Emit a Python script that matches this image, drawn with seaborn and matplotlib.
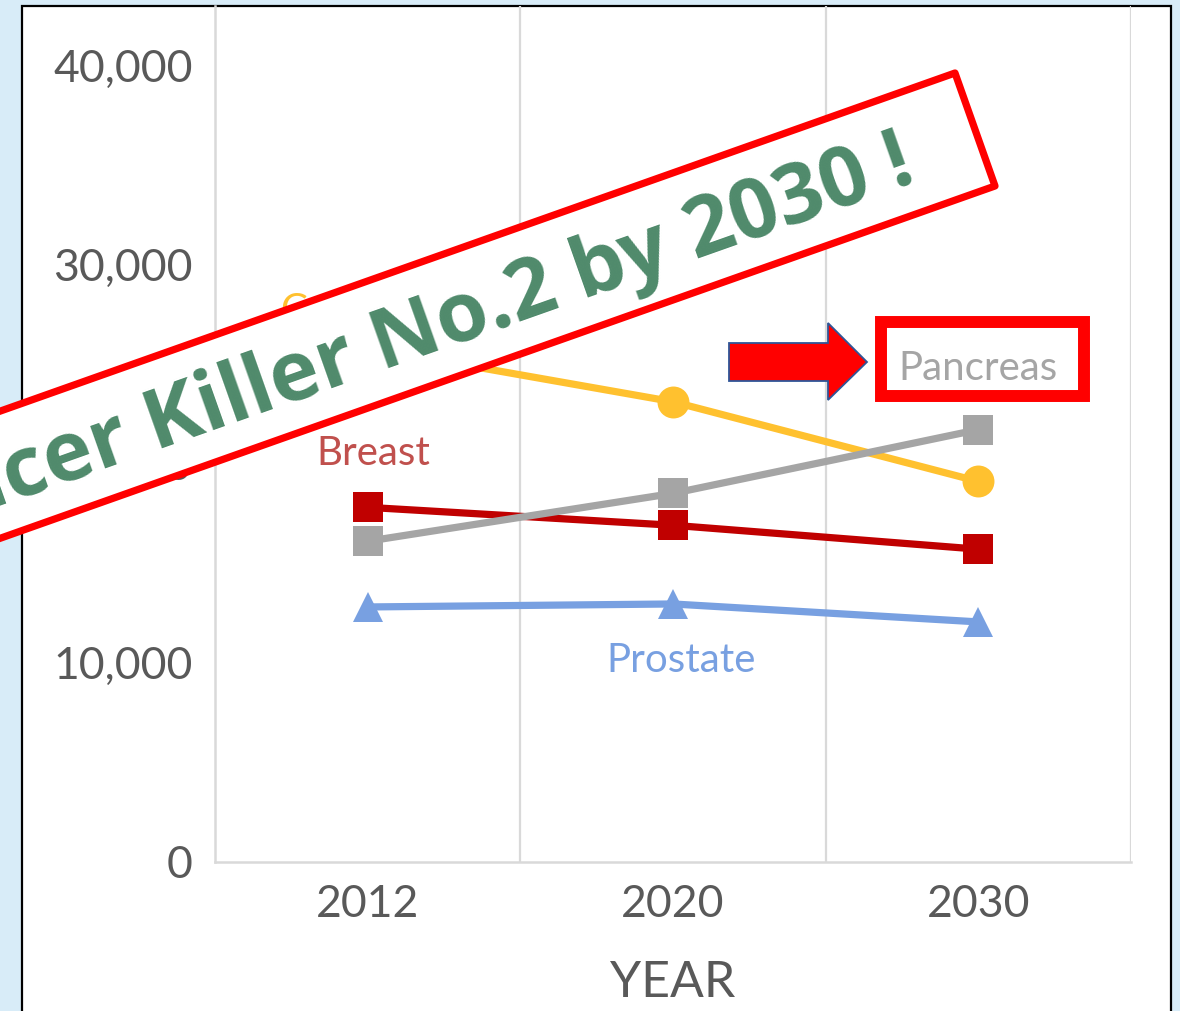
import numpy as np
import pandas as pd
import matplotlib
matplotlib.use("Agg")
import matplotlib.pyplot as plt
import seaborn as sns
from matplotlib.patches import Polygon, Rectangle

# ---------------- data ----------------
years = ["2012", "2020", "2030"]
colorectal = [25800, 23100, 19100]
breast = [17800, 16900, 15700]
pancreas = [16100, 18500, 21700]
prostate = [12800, 12950, 12050]
series_names = ["Colorectal", "Breast", "Pancreas", "Prostate"]
y_ticks = [0, 10000, 20000, 30000, 40000]
y_tick_labels = [f"{v:,}" for v in y_ticks]
banner_text = "Cancer Killer No.2 by 2030 !"

# ---------------- style ----------------
sns.set_theme(style="white")
plt.rcParams["font.family"] = ["Lato", "DejaVu Sans"]

W, H = 1180, 1011
fig = plt.figure(figsize=(W / 100, H / 100), dpi=100)
fig.patch.set_facecolor("#D8ECF8")

def P(x, y):
    return (x / W, 1 - y / H)

# white panel with black border
panel = Rectangle(P(22, 1200), (1171 - 22) / W, (1200 - 6) / H,
                  transform=fig.transFigure, facecolor="white",
                  edgecolor="black", lw=1.6, zorder=-5)
fig.add_artist(panel)

ax = fig.add_axes([215 / W, 1 - 862 / H, (1131 - 215) / W, (862 - 6) / H])
ax.set_facecolor("none")

x = np.arange(len(years))
styles = [
    (colorectal, "#FFC12F", "o", 23),
    (breast, "#C00000", "s", 21),
    (pancreas, "#A5A5A5", "s", 21),
    (prostate, "#78A0E1", "^", 22),
]
for name, (vals, col, mk, ms) in zip(series_names, styles):
    df = pd.DataFrame({"x": x, "value": vals})
    sns.lineplot(data=df, x="x", y="value", color=col, marker=mk,
                 markersize=ms, markeredgewidth=0, linewidth=5.2,
                 ax=ax, legend=False, zorder=3)

ax.set_xlim(-0.5, 2.5)
ax.set_ylim(0, 40000 * (862 - 6) / 797)
ax.set_xticks(x)
ax.set_xticklabels(years)
ax.set_yticks(y_ticks)
ax.set_yticklabels(y_tick_labels)
ax.tick_params(axis="both", length=0, labelsize=32, colors="#595959")
ax.tick_params(axis="x", pad=16)
ax.tick_params(axis="y", pad=16)
ax.set_xlabel("YEAR", fontsize=36, color="#595959", labelpad=25)
ax.set_ylabel("")

for s in ["top", "right"]:
    ax.spines[s].set_visible(False)
for s in ["left", "bottom"]:
    ax.spines[s].set_color("#D9D9D9")
    ax.spines[s].set_linewidth(1.8)
for xv in [0.5, 1.5, 2.5]:
    ax.axvline(xv, color="#D9D9D9", lw=1.6, zorder=1)

# data labels
lab_kw = dict(textcoords="offset points", ha="center", va="center", fontsize=29)
ax.annotate("Colorectal", (0, colorectal[0]), xytext=(2, 27), color="#FFC12F", **lab_kw)
ax.annotate("Breast", (0, breast[0]), xytext=(4, 39), color="#C0504D", **lab_kw)
ax.annotate("Prostate", (1, prostate[1]), xytext=(6, -41), color="#78A0E1", **lab_kw)
ax.annotate("Pancreas", (2, pancreas[2]), xytext=(0, 44), color="#A5A5A5", **lab_kw)

# arrow
arrow_px = [(729, 343), (828, 343), (828, 323), (867, 362), (828, 400), (828, 381), (729, 381)]
fig.add_artist(Polygon([P(*p) for p in arrow_px], closed=True, transform=fig.transFigure,
                       facecolor="#FF0000", edgecolor="#2F5597", lw=1.3, zorder=8))
# red box around Pancreas
fig.add_artist(Rectangle(P(881, 396), (1084 - 881) / W, (396 - 322) / H,
                         transform=fig.transFigure, fill=False, edgecolor="#FF0000",
                         lw=8.6, joinstyle="miter", zorder=8))

# rotated banner
theta = np.deg2rad(19.5)
u = np.array([-np.cos(theta), np.sin(theta)])
TR = np.array([955, 73]); BR = np.array([995, 186])
L = 1300
corners = [TR, BR, BR + L * u, TR + L * u]
fig.add_artist(Polygon([P(*c) for c in corners], closed=True, transform=fig.transFigure,
                       facecolor="white", edgecolor="#FF0000", lw=5.2, joinstyle="round",
                       zorder=10))
fig.text(*P(918, 181), banner_text, rotation=19.5, rotation_mode="anchor",
         ha="right", va="baseline", fontsize=60, fontweight="bold",
         color="#4F8A6B", family=["Open Sans", "DejaVu Sans"], zorder=11)

fig.savefig("out.png", dpi=100)
